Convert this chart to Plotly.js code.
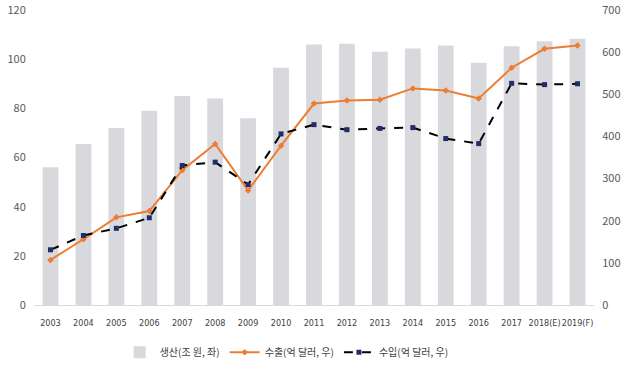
<!DOCTYPE html>
<html><head><meta charset="utf-8">
<script src="https://cdn.plot.ly/plotly-3.0.1.min.js"></script>
<style>html,body{margin:0;padding:0;background:#fff}#c{width:630px;height:370px}</style>
</head><body><div id="c"></div>
<script>
const years = ['2003','2004','2005','2006','2007','2008','2009','2010','2011','2012','2013','2014','2015','2016','2017','2018(E)','2019(F)'];
const production = [56,65.5,72,79,85,84,76,96.5,106,106.3,103,104.3,105.6,98.5,105.3,107.3,108.3];
const exports = [107,156,208,223,320,382,272,378,478,485,487,514,509,490,563,608,616];
const imports = [131,165,182,207,331,339,286,406,428,416,419,421,395,383,526,523,525];
const names = ['생산(조 원, 좌)','수출(억 달러, 우)','수입(억 달러, 우)'];

const font = "'Noto Sans CJK KR','Noto Sans',sans-serif";
const narrow = "'Liberation Sans Narrow','DejaVu Sans Condensed','Roboto',sans-serif";
const data = [
  {type:'bar', x:years, y:production, name:names[0], marker:{color:'#d9d8dc'}, width:0.48, yaxis:'y'},
  {type:'scatter', mode:'lines+markers', x:years, y:exports, name:names[1], yaxis:'y2',
   line:{color:'#ed7d31', width:2}, marker:{color:'#ed7d31', size:5, symbol:'diamond'}},
  {type:'scatter', mode:'lines+markers', x:years, y:imports, name:names[2], yaxis:'y2',
   line:{color:'#000000', width:2, dash:'dash'}, marker:{color:'#1f2d6b', size:5, symbol:'square'}}
];
const layout = {
  width:630, height:370,
  margin:{l:34, r:36, t:10, b:65, autoexpand:false},
  paper_bgcolor:'#fff', plot_bgcolor:'#fff',
  font:{family:font, color:'#595959', size:11},
  showlegend:true,
  legend:{orientation:'h', x:0.455, xanchor:'center', xref:'container', yref:'container', y:0.048, yanchor:'middle', font:{size:10, color:'#404040'}, traceorder:'normal', itemwidth:30, tracegroupgap:0},
  xaxis:{type:'category', automargin:false, range:[-0.5,16.5], tickangle:0, tickfont:{size:9, color:'#404040', family:narrow}, showgrid:false, showline:true, linecolor:'#d9d9d9', linewidth:1, ticks:'outside', ticklen:9, tickcolor:'rgba(0,0,0,0)', zeroline:false},
  yaxis:{automargin:false, range:[0,120.01], tickvals:[0,20,40,60,80,100,120], showgrid:false, zeroline:false, showline:false, tickfont:{size:11, color:'#595959'}, ticks:'outside', ticklen:5, tickcolor:'rgba(0,0,0,0)'},
  yaxis2:{automargin:false, range:[0,700.05], tickvals:[0,100,200,300,400,500,600,700], overlaying:'y', side:'right', showgrid:false, zeroline:false, showline:false, tickfont:{size:11, color:'#595959'}, ticks:'outside', ticklen:5, tickcolor:'rgba(0,0,0,0)'}
};
Plotly.newPlot('c', data, layout, {displayModeBar:false, staticPlot:true});
</script></body></html>
